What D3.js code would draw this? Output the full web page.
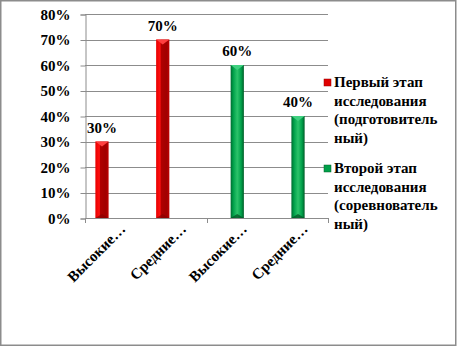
<!DOCTYPE html>
<html>
<head>
<meta charset="utf-8">
<script src="https://cdn.jsdelivr.net/npm/d3@7"></script>
<style>
  html, body { margin: 0; padding: 0; background: #fff; }
  svg { display: block; }
</style>
</head>
<body>
<svg id="chart" width="457" height="347" font-family="Liberation Serif" font-weight="bold"></svg>
<script>
// Categories along the x axis
const categories = ["Высокие…", "Средние…", "Высокие…", "Средние…"];
// Series values (percent); null where a series has no bar
const stage1Values = [30, 70, null, null];
const stage2Values = [null, null, 60, 40];
const seriesNames = [
  ["Первый этап", "исследования", "(подготовитель", "ный)"],
  ["Второй этап", "исследования", "(соревнователь", "ный)"]
];
const yTicks = [0, 10, 20, 30, 40, 50, 60, 70, 80];

const FONT = "Liberation Serif";
const svg = d3.select("#chart");
const plot = { left: 85, right: 328, top: 14, bottom: 218 };

// Outer frame
svg.append("rect")
  .attr("x", 0.75).attr("y", 0.75)
  .attr("width", 455).attr("height", 344.5)
  .attr("fill", "#fff").attr("stroke", "#8c8c8c").attr("stroke-width", 1.5);

const defs = svg.append("defs");
const redGrad = defs.append("linearGradient").attr("id", "gRed").attr("x1", 0).attr("x2", 1);
[[0, "#e80000"], [0.3, "#ff1010"], [0.38, "#b00000"], [0.8, "#a00000"], [1, "#c00000"]]
  .forEach(([o, c]) => redGrad.append("stop").attr("offset", o).attr("stop-color", c));
const greenGrad = defs.append("linearGradient").attr("id", "gGreen").attr("x1", 0).attr("x2", 1);
[[0, "#006b30"], [0.2, "#00a04a"], [0.5, "#2cc36a"], [0.8, "#00a04a"], [1, "#005c28"]]
  .forEach(([o, c]) => greenGrad.append("stop").attr("offset", o).attr("stop-color", c));

const y = d3.scaleLinear().domain([0, 80]).range([plot.bottom, plot.top]);
const x = d3.scaleBand().domain(d3.range(categories.length)).range([plot.left, plot.right]);
const x1 = d3.scaleBand().domain([0, 1]).range([-20, 7]).paddingInner(0.04);

// Gridlines
svg.append("g").selectAll("line")
  .data(yTicks.filter(t => t > 0))
  .join("line")
  .attr("x1", plot.left).attr("x2", plot.right)
  .attr("y1", d => Math.round(y(d)) + 0.5).attr("y2", d => Math.round(y(d)) + 0.5)
  .attr("stroke", "#8c8c8c").attr("stroke-width", 1);

// Y axis
const yAxis = d3.axisLeft(y).tickValues(yTicks).tickFormat(d => d + "%").tickSize(5).tickPadding(10);
const gy = svg.append("g").attr("transform", `translate(${plot.left + 0.5},0.5)`).call(yAxis);
gy.attr("font-family", FONT).attr("font-size", 15).attr("font-weight", "bold");
gy.select(".domain").attr("stroke", "#8c8c8c");
gy.selectAll(".tick line").attr("stroke", "#8c8c8c");
gy.selectAll(".tick text").attr("fill", "#000");

// X axis line with ticks every two categories
svg.append("line")
  .attr("x1", plot.left).attr("x2", plot.right)
  .attr("y1", plot.bottom + 0.5).attr("y2", plot.bottom + 0.5)
  .attr("stroke", "#8c8c8c");
[0, 2, 4].forEach(i => {
  const xx = Math.round(plot.left + x.step() * i) + 0.5;
  svg.append("line").attr("x1", xx).attr("x2", xx)
    .attr("y1", plot.bottom).attr("y2", plot.bottom + 5).attr("stroke", "#8c8c8c");
});

// X labels, rotated
svg.append("g").selectAll("text")
  .data(categories)
  .join("text")
  .attr("transform", (d, i) => `translate(${x(i) + x.bandwidth() / 2 + 11},${plot.bottom + 12}) rotate(-45)`)
  .attr("text-anchor", "end")
  .attr("font-family", FONT).attr("font-weight", "bold")
  .attr("font-size", 15)
  .text(d => d);

// Bars
const series = [
  { values: stage1Values, fill: "url(#gRed)", top: "#ff4040", edge: "#8a0000" },
  { values: stage2Values, fill: "url(#gGreen)", top: "#40d080", edge: "#004d20" }
];
series.forEach((s, si) => {
  const g = svg.append("g");
  s.values.forEach((v, i) => {
    if (v == null) return;
    const bx = x(i) + x.bandwidth() / 2 + x1(si);
    const bw = x1.bandwidth();
    const by = y(v);
    const bh = y(0) - by;
    g.append("rect").attr("x", bx).attr("y", by).attr("width", bw).attr("height", bh)
      .attr("fill", s.fill);
    // bevelled top
    g.append("path")
      .attr("d", `M${bx},${by} L${bx + bw},${by} L${bx + bw / 2},${by + 5} Z`)
      .attr("fill", s.top);
    // bevelled bottom
    g.append("path")
      .attr("d", `M${bx},${by + bh} L${bx + bw},${by + bh} L${bx + bw / 2},${by + bh - 4} Z`)
      .attr("fill", s.edge).attr("opacity", 0.7);
    // value label
    svg.append("text")
      .attr("x", bx + bw / 2).attr("y", by - 9)
      .attr("text-anchor", "middle")
      .attr("font-family", FONT).attr("font-weight", "bold").attr("font-size", 15)
      .text(v + "%");
  });
});

// Legend
const legendColors = ["#e00000", "#00a04a"];
const legendTops = [87, 173];
seriesNames.forEach((lines, i) => {
  const g = svg.append("g");
  g.append("rect").attr("x", 324).attr("y", legendTops[i] - 8).attr("width", 7).attr("height", 7)
    .attr("fill", legendColors[i]).attr("stroke", i === 0 ? "#900" : "#00602a").attr("stroke-width", 0.5);
  lines.forEach((t, j) => {
    g.append("text").attr("x", 334).attr("y", legendTops[i] + j * 18.7)
      .attr("font-family", FONT).attr("font-weight", "bold")
      .attr("font-size", 15).text(t);
  });
});
</script>
</body>
</html>
